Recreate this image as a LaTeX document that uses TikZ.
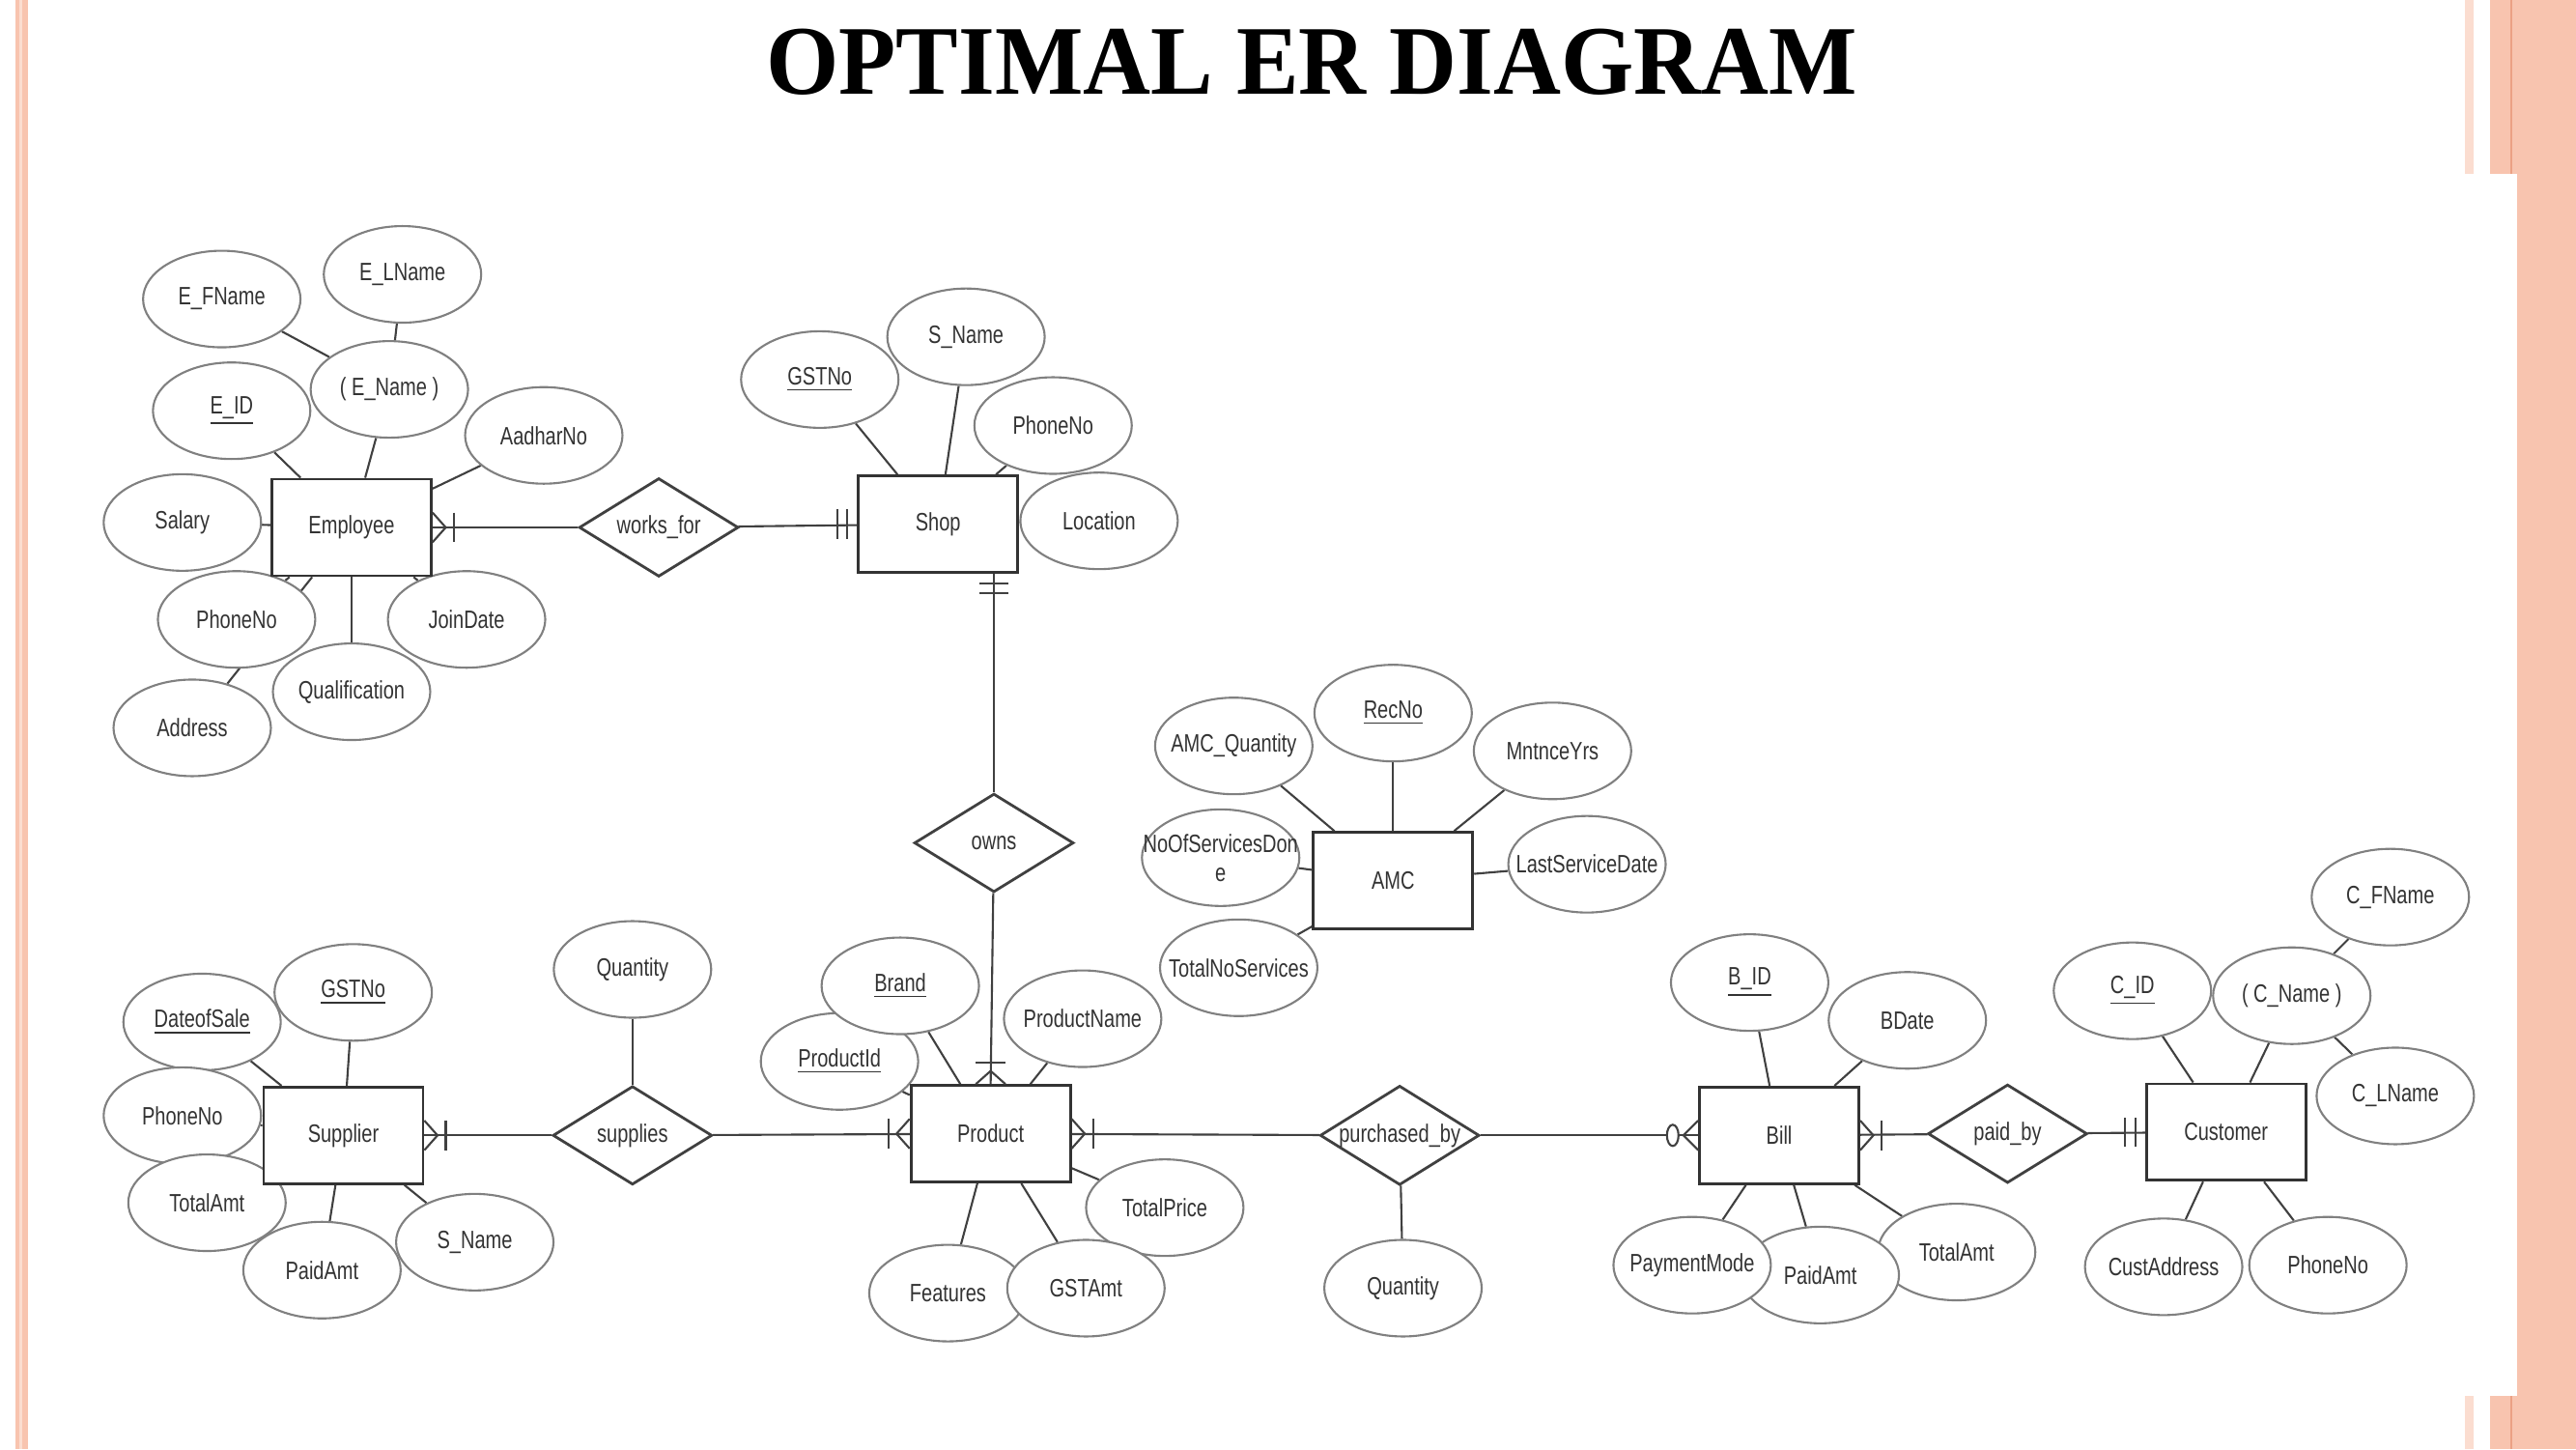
\documentclass[tikz,border=0pt]{standalone}
\usepackage{fontspec}
\newfontfamily\erfont[FakeStretch=0.77]{Liberation Sans}
\newfontfamily\titlefont[FakeStretch=0.95]{Liberation Serif}
\usetikzlibrary{shapes.geometric,backgrounds}
\definecolor{slide}{HTML}{F8C4AF}
\definecolor{slidedark}{HTML}{EBA184}
\definecolor{slidelight}{HTML}{FBDDD0}

\begin{document}
\begin{tikzpicture}[x=0.01701cm,y=-0.01701cm,
    every node/.style={font=\erfont\fontsize{7.4}{8.5}\selectfont,text=black!80},
    attr/.style={ellipse,draw=black!50,line width=0.6pt,fill=white,minimum width=1.63cm,minimum height=1.0cm,inner xsep=-0.25cm,inner ysep=0pt},
    entity/.style={rectangle,draw=black!80,line width=0.8pt,fill=white,minimum width=1.65cm,minimum height=1.0cm},
    rel/.style={diamond,draw=black!75,line width=0.8pt,fill=white,minimum width=1.65cm,minimum height=1.02cm,inner sep=0pt,aspect=1.6},
    link/.style={draw=black!75,line width=0.6pt},
    pics/manyone/.style={code={
      \draw[link] (0,-9) -- (8,0) -- (0,9);
      \draw[link] (13,-9) -- (13,9);
    }},
    pics/oneone/.style={code={
      \draw[link] (6,-9) -- (6,9);
      \draw[link] (12,-9) -- (12,9);
    }},
    pics/zeromany/.style={code={
      \draw[link] (0,-9) -- (9,0) -- (0,9);
      \draw[link,fill=white] (15.5,0) ellipse [x radius=0.06cm,y radius=0.11cm];
    }}]
      \useasboundingbox (0,0) rectangle (1568,882);
      \node[font=\titlefont\bfseries\fontsize{29}{34}\selectfont,text=black] (title) at (798.5,38) {OPTIMAL ER DIAGRAM};

      % employee
      \node[attr] (efname) at (135,182) {E\_FName};
      \node[attr] (elname) at (245,167) {E\_LName};
      \node[attr] (ename) at (237,237) {( E\_Name )};
      \node[attr] (eid) at (141,250) {\underline{E\_ID}};
      \node[attr] (aadhar) at (331,265) {AadharNo};
      \node[attr] (salary) at (111,318) {Salary};
      \node[attr] (eaddress) at (117,443) {Address};
      \node[attr] (ephone) at (144,377) {PhoneNo};
      \node[attr] (joindate) at (284,377) {JoinDate};
      \node[attr] (qualif) at (214,421) {Qualification};
      \node[entity] (employee) at (214,321) {Employee};
      \node[rel] (worksfor) at (401,321) {works\_for};

      % shop
      \node[attr] (sgst) at (499,231) {\underline{GSTNo}};
      \node[attr] (sname) at (588,205) {S\_Name};
      \node[attr] (sphone) at (641,259) {PhoneNo};
      \node[attr] (slocation) at (669,317) {Location};
      \node[entity] (shop) at (571,319) {Shop};
      \node[rel] (owns) at (605,513) {owns};

      % amc
      \node[attr] (amcqty) at (751,454) {AMC\_Quantity};
      \node[attr] (recno) at (848,434) {\underline{RecNo}};
      \node[attr] (mntnce) at (945,457) {MntnceYrs};
      \node[attr,align=center] (servdone) at (743,522) {NoOfServicesDon\\e};
      \node[attr] (lastserv) at (966,526) {LastServiceDate};
      \node[attr] (totalserv) at (754,589) {TotalNoServices};
      \node[entity] (amc) at (848,536) {AMC};

      % supplier
      \node[attr] (dateofsale) at (123,622) {\underline{DateofSale}};
      \node[attr] (supgst) at (215,604) {\underline{GSTNo}};
      \node[attr] (supphone) at (111,679) {PhoneNo};
      \node[attr] (suptotal) at (126,732) {TotalAmt};
      \node[attr] (suppaid) at (196,773) {PaidAmt};
      \node[attr] (supname) at (289,756) {S\_Name};
      \node[entity] (supplier) at (209,691) {Supplier};
      \node[attr] (supqty) at (385,590) {Quantity};
      \node[rel] (supplies) at (385,691) {supplies};

      % product
      \node[attr] (productid) at (511,646) {\underline{ProductId}};
      \node[attr] (brand) at (548,600) {\underline{Brand}};
      \node[attr] (prodname) at (659,620) {ProductName};
      \node[attr] (totalprice) at (709,735) {TotalPrice};
      \node[attr] (features) at (577,787) {Features};
      \node[attr] (gstamt) at (661,784) {GSTAmt};
      \node[entity] (product) at (603,690) {Product};
      \node[rel] (purchasedby) at (852,691) {purchased\_by};
      \node[attr] (purqty) at (854,784) {Quantity};

      % bill
      \node[attr] (bid) at (1065,598) {\underline{B\_ID}};
      \node[attr] (bdate) at (1161,621) {BDate};
      \node[attr] (billtotal) at (1191,762) {TotalAmt};
      \node[attr] (billpaid) at (1108,776) {PaidAmt};
      \node[attr] (paymode) at (1030,770) {PaymentMode};
      \node[entity] (bill) at (1083,691) {Bill};
      \node[rel] (paidby) at (1222,690) {paid\_by};

      % customer
      \node[attr] (cid) at (1298,603) {\underline{C\_ID}};
      \node[attr] (cname) at (1395,606) {( C\_Name )};
      \node[attr] (cfname) at (1455,546) {C\_FName};
      \node[attr] (clname) at (1458,667) {C\_LName};
      \node[attr] (custaddr) at (1317,771) {CustAddress};
      \node[attr] (cphone) at (1417,770) {PhoneNo};
      \node[entity] (customer) at (1355,689) {Customer};

      \begin{scope}[on background layer]
        % slide border
        \fill[slide] (9.4,0) rectangle (17.2,882);
        \fill[slidelight] (11.8,0) rectangle (13.7,882);
        \fill[slide] (1532,0) rectangle (1568,882);
        \foreach \ya/\yb in {0/106,849.5/882} {
          \fill[slidelight] (1500.3,\ya) rectangle (1505.6,\yb);
          \fill[slide] (1515.6,\ya) rectangle (1532,\yb);
          \draw[slidedark,line width=0.6pt] (1528.5,\ya) -- (1528.5,\yb);
        }
        \path[link]
          (efname) edge (ename)
          (elname) edge (ename)
          (ename) edge (employee)
          (eid) edge (employee)
          (aadhar) edge (employee)
          (salary) edge (employee)
          (ephone) edge (employee)
          (eaddress) edge (employee)
          (joindate) edge (employee)
          (qualif) edge (employee)
          (employee) edge (worksfor)
          (worksfor) edge (shop)
          (sgst) edge (shop)
          (sname) edge (shop)
          (sphone) edge (shop)
          (slocation) edge (shop)
          (shop.south -| owns.north) edge (owns.north)
          (owns) edge (product.north)
          (amcqty) edge (amc)
          (recno) edge (amc)
          (mntnce) edge (amc)
          (servdone) edge (amc)
          (lastserv) edge (amc)
          (totalserv) edge (amc)
          (dateofsale) edge (supplier)
          (supgst) edge (supplier)
          (supphone) edge (supplier)
          (suptotal) edge (supplier)
          (suppaid) edge (supplier)
          (supname) edge (supplier)
          (supplier) edge (supplies)
          (supqty) edge (supplies)
          (supplies) edge (product)
          (productid) edge (product)
          (brand) edge (product)
          (prodname) edge (product)
          (totalprice) edge (product)
          (features) edge (product)
          (gstamt) edge (product)
          (product) edge (purchasedby)
          (purqty) edge (purchasedby)
          (purchasedby) edge (bill)
          (bid) edge (bill)
          (bdate) edge (bill)
          (paymode) edge (bill)
          (billpaid) edge (bill)
          (billtotal) edge (bill)
          (bill) edge (paidby)
          (paidby) edge (customer)
          (cid) edge (customer)
          (cname) edge (customer)
          (cfname) edge (cname)
          (clname) edge (cname)
          (custaddr) edge (customer)
          (cphone) edge (customer);
      \end{scope}

      % cardinalities
      \pic at (employee.east) {manyone};
      \pic[rotate=180] at (shop.west) {oneone};
      \pic[rotate=-90] at (shop.south -| owns.north) {oneone};
      \pic[rotate=90] at (product.north) {manyone};
      \pic at (supplier.east) {manyone};
      \pic[rotate=180] at (product.west) {manyone};
      \pic at (product.east) {manyone};
      \pic[rotate=180] at (bill.west) {zeromany};
      \pic at (bill.east) {manyone};
      \pic[rotate=180] at (customer.west) {oneone};
    \end{tikzpicture}
\end{document}
